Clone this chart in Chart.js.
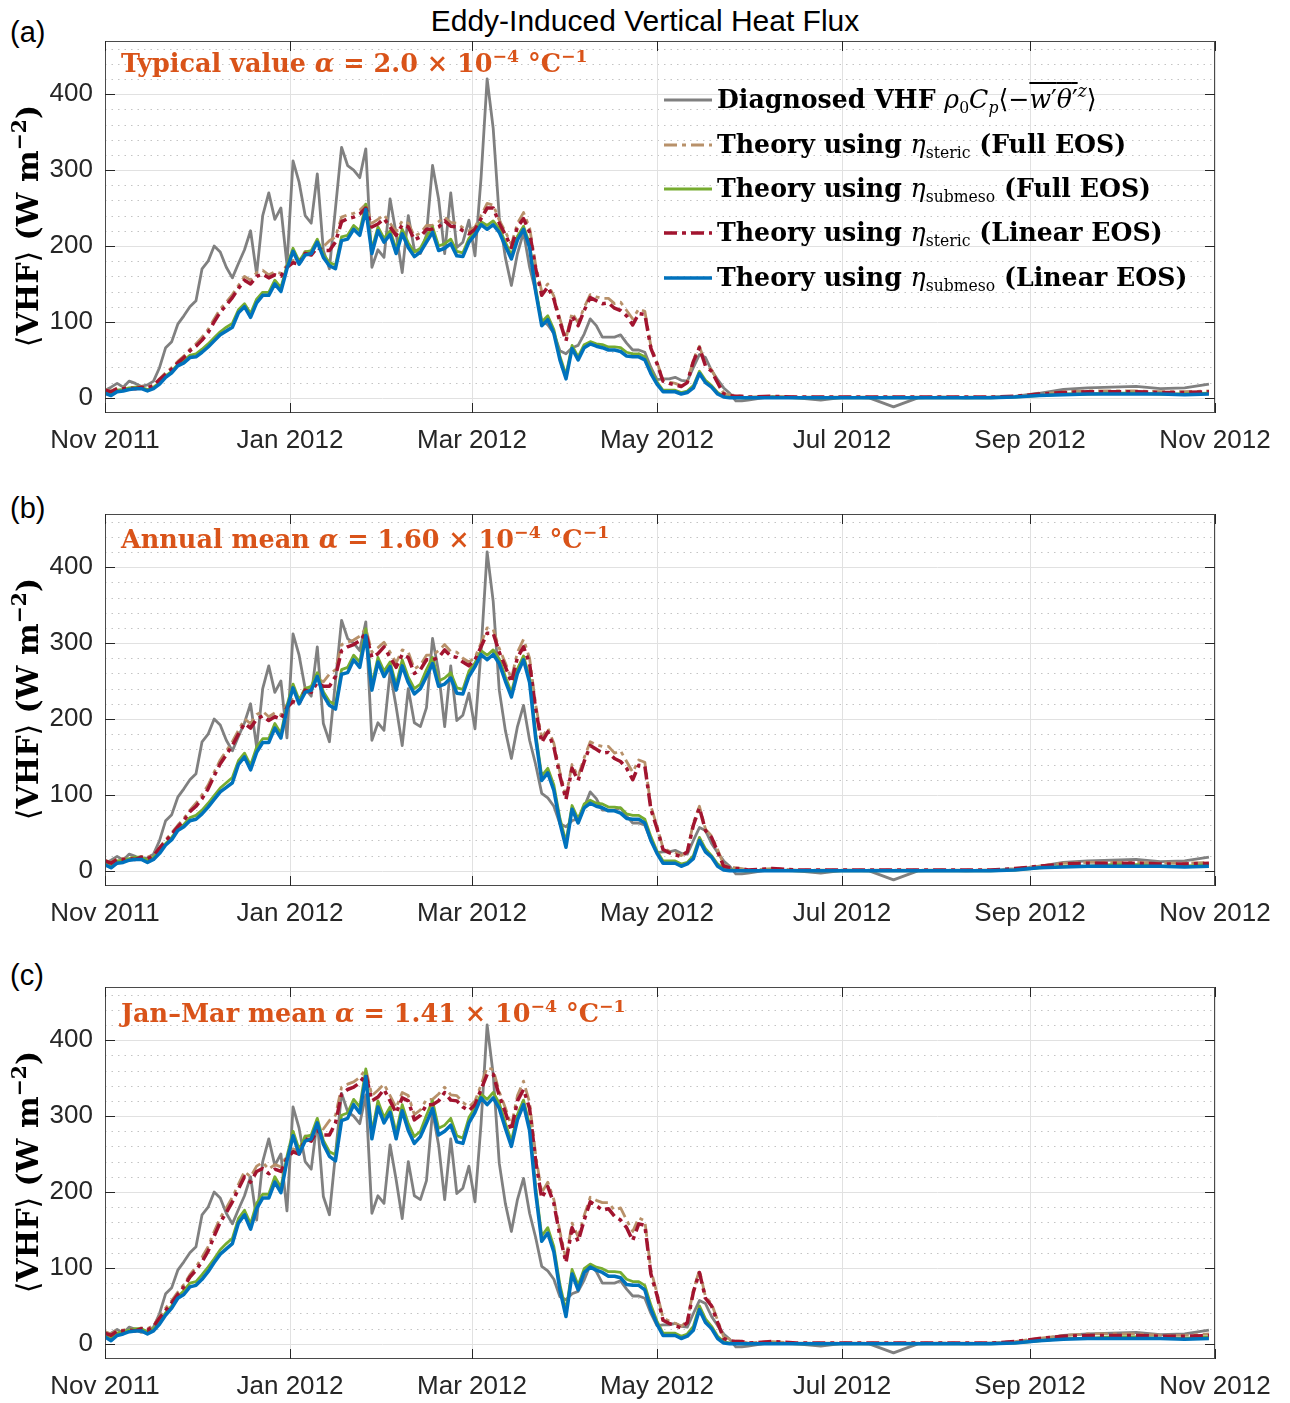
<!DOCTYPE html>
<html>
<head>
<meta charset="utf-8">
<script src="https://cdn.jsdelivr.net/npm/chart.js@4.4.1/dist/chart.umd.min.js"></script>
<style>
  html, body { margin: 0; padding: 0; background: #fff; width: 1290px; height: 1403px; overflow: hidden; position: relative; }
  canvas { position: absolute; left: 0; }
  .txt { position: absolute; white-space: nowrap; line-height: 1; color: #000; }
  .sans { font-family: 'Liberation Sans', Arial, sans-serif; }
  .serif { font-family: 'DejaVu Serif', serif; font-weight: bold; }
  .sx { transform-origin: 0 0; }
  .note { color: #D95319; font-size: 25.5px; }
  .leg { font-size: 26px; }
  .m { font-weight: normal; }
  sup { font-size: 0.68em; vertical-align: 0.6em; line-height: 0; }
  sub { font-size: 0.62em; vertical-align: -0.3em; line-height: 0; }
  .m sub, .m sup { font-weight: normal; }
  .ov { text-decoration: overline; }
  .ylab { font-size: 30px; transform: translate(-50%, -50%) rotate(-90deg); transform-origin: 50% 50%; }
</style>
</head>
<body>

<div class="txt sans" style="left:0; width:1290px; text-align:center; top:6px; font-size:30px;">Eddy-Induced Vertical Heat Flux</div>

<div class="txt sans" style="left:10px; top:18px; font-size:29px;">(a)</div>
<div class="txt sans" style="left:10px; top:494px; font-size:29px;">(b)</div>
<div class="txt sans" style="left:10px; top:961px; font-size:29px;">(c)</div>

<canvas id="chartA" width="1290" height="470" style="top:0px"></canvas>
<canvas id="chartB" width="1290" height="470" style="top:473px"></canvas>
<canvas id="chartC" width="1290" height="470" style="top:946px"></canvas>

<div class="txt serif ylab" style="left:28px; top:226px;"><span class="m">⟨</span>VHF<span class="m">⟩</span> (W m<sup>−2</sup>)</div>
<div class="txt serif ylab" style="left:28px; top:699px;"><span class="m">⟨</span>VHF<span class="m">⟩</span> (W m<sup>−2</sup>)</div>
<div class="txt serif ylab" style="left:28px; top:1172px;"><span class="m">⟨</span>VHF<span class="m">⟩</span> (W m<sup>−2</sup>)</div>

<div class="txt serif note" style="left:121px; top:51px;">Typical value <i>α</i> = 2.0 × 10<sup>−4</sup> °C<sup>−1</sup></div>
<div class="txt serif note" style="left:121px; top:527px;">Annual mean <i>α</i> = 1.60 × 10<sup>−4</sup> °C<sup>−1</sup></div>
<div class="txt serif note" style="left:121px; top:1001px;">Jan–Mar mean <i>α</i> = 1.41 × 10<sup>−4</sup> °C<sup>−1</sup></div>

<svg style="position:absolute; left:664px; top:78px;" width="48" height="220">
  <line x1="0" y1="22" x2="48" y2="22" stroke="#808080" stroke-width="2.8"/>
  <line x1="0" y1="67" x2="48" y2="67" stroke="#B8916A" stroke-width="2.8" stroke-dasharray="13 5 4 5"/>
  <line x1="0" y1="111" x2="48" y2="111" stroke="#77AC30" stroke-width="2.8"/>
  <line x1="0" y1="155" x2="48" y2="155" stroke="#A2142F" stroke-width="3.5" stroke-dasharray="13 5 4 5"/>
  <line x1="0" y1="200" x2="48" y2="200" stroke="#0072BD" stroke-width="3.5"/>
</svg>
<div class="txt serif leg sx" style="left:717px; top:86px; transform:scaleX(0.97);">Diagnosed VHF <span class="m"><i>ρ</i><sub>0</sub><i>C</i><sub><i>p</i></sub>⟨−<span class="ov"><i>w</i>′<i>θ</i>′</span><sup><i>z</i></sup>⟩</span></div>
<div class="txt serif leg sx" style="left:717px; top:131px; transform:scaleX(0.97);">Theory using <span class="m"><i>η</i><sub>steric</sub></span> (Full EOS)</div>
<div class="txt serif leg sx" style="left:717px; top:175px; transform:scaleX(0.97);">Theory using <span class="m"><i>η</i><sub>submeso</sub></span> (Full EOS)</div>
<div class="txt serif leg sx" style="left:717px; top:219px; transform:scaleX(0.97);">Theory using <span class="m"><i>η</i><sub>steric</sub></span> (Linear EOS)</div>
<div class="txt serif leg sx" style="left:717px; top:264px; transform:scaleX(0.97);">Theory using <span class="m"><i>η</i><sub>submeso</sub></span> (Linear EOS)</div>

<script>
// days since 1 Nov 2011
const DAYS = [0,2,4,6,8,10,12,14,16,18,20,22,24,26,28,30,32,34,36,38,40,42,44,46,48,50,52,54,56,58,
  60,62,64,66,68,70,72,74,76,78,80,82,84,86,88,90,92,94,96,98,100,102,104,106,108,110,112,114,116,118,
  120,122,124,126,128,130,132,134,136,138,140,142,144,146,148,150,152,154,156,158,160,162,164,166,168,170,172,174,176,178,
  180,182,184,186,188,190,192,194,196,198,200,202,204,206,208,210,212,
  220,228,236,244,252,260,268,276,284,292,300,308,316,324,332,340,348,356,364];

const XTICK_DAYS = [0, 61, 121, 182, 243, 305, 366];
const XTICK_LABELS = ['Nov 2011', 'Jan 2012', 'Mar 2012', 'May 2012', 'Jul 2012', 'Sep 2012', 'Nov 2012'];
const YTICKS = [0, 100, 200, 300, 400];

// Diagnosed VHF (same in all panels)
const DIAGNOSED = [10,14,19,14,22,19,15,17,22,40, 66,74,97,108,120,128,170,180,200,192,
  172,158,177,195,220,163,240,270,235,250, 175,312,284,240,230,295,194,170,250,330,
  306,300,290,328,172,195,185,262,216,165, 240,195,190,215,306,262,190,270,198,205,
  234,187,290,420,355,238,185,148,190,218, 172,140,102,96,85,62,58,66,69,84,
  104,95,80,80,80,83,72,63,63,60, 40,24,25,25,27,23,22,40,57,53, 36,24,13,6,-4,-4,-3,
  2,0,-3,1,0,-12,0,1,0,1,2,6,11,13,14,15,12,13,18];

// (a) alpha = 2.0e-4
const STERIC_FULL_A = [11,9,13,13,14,13,15,14,17,25, 33,40,48,55,64,71,80,90,104,117,
  126,136,148,160,155,165,168,162,166,164, 175,181,179,193,192,202,199,207,212,238,
  241,243,247,255,230,235,241,230,219,233, 230,213,217,227,227,232,238,231,230,224,
  220,225,240,256,254,234,219,202,230,244, 224,175,140,150,134,104,78,112,99,119,
  136,133,131,131,124,126,115,104,117,114, 68,47,24,21,19,16,21,50,68,44, 37,22,6,4,3,2,1,
  2,1,1,1,1,1,1,1,1,1,2,5,8,9,9,9,8,8,9];
const SUBMESO_FULL_A = [8,5,10,11,13,14,14,11,14,20, 29,35,44,49,56,58,64,71,79,87,
  93,98,116,124,111,130,139,139,155,145, 174,197,180,192,194,209,189,178,175,212,
  214,227,220,255,196,225,210,220,196,222, 204,192,197,212,225,200,203,209,193,191,
  210,219,232,227,233,223,205,188,213,226, 203,145,100,108,90,55,30,69,54,70,
  74,71,70,67,67,66,60,58,58,54, 36,21,10,10,10,7,9,16,35,23, 16,7,2,1,1,0,0,
  1,0,0,0,0,0,0,0,0,0,1,3,5,5,6,6,5,5,6];
const STERIC_LIN_A = [10,8,12,12,13,12,14,13,16,24, 31,38,46,53,62,68,76,86,100,113,
  122,132,144,155,150,160,163,158,162,160, 172,178,176,190,188,198,194,194,205,232,
  236,238,242,250,225,229,236,225,214,228, 225,208,212,222,222,225,233,226,225,220,
  216,222,236,250,250,230,215,198,225,236, 218,170,135,146,130,100,75,108,95,115,
  132,128,124,125,118,115,108,96,111,110, 65,45,22,19,17,15,20,48,66,42, 35,20,5,3,2,2,1,
  2,1,1,1,1,1,1,1,1,1,2,5,7,8,8,8,7,7,8];
const SUBMESO_LIN_A = [6,3,8,9,11,12,12,9,12,18, 27,33,42,46,53,54,60,67,75,83,
  88,93,112,120,106,125,135,135,150,140, 170,193,176,188,190,205,185,174,170,207,
  209,222,214,248,190,220,205,215,190,216, 198,186,192,205,218,194,197,203,187,186,
  205,215,228,222,228,218,200,183,208,222, 198,140,95,103,85,50,25,65,50,66,
  71,68,66,63,63,61,55,54,54,50, 32,18,8,8,8,5,7,13,32,20, 14,5,1,0,0,0,0,
  0,0,0,0,0,0,0,0,0,0,1,3,4,5,5,5,5,4,5];

// (b) alpha = 1.60e-4
const STERIC_FULL_B = [14,11,16,16,18,16,19,18,21,31, 41,50,60,69,80,89,100,113,130,146,
  158,170,185,200,194,206,210,203,208,205, 219,226,224,241,240,253,249,259,265,298,
  301,304,309,319,288,294,301,288,274,291, 288,266,271,284,284,290,298,289,288,280,
  275,281,300,320,318,293,274,253,288,305, 280,219,175,188,168,130,98,140,124,149,
  170,166,164,164,155,158,144,130,146,143, 85,59,30,26,24,20,26,63,85,55, 46,28,8,5,4,3,1,
  3,1,1,1,1,1,1,1,1,1,3,6,10,11,11,11,10,10,11];
const SUBMESO_FULL_B = [10,6,13,14,16,18,18,14,18,25, 36,44,55,61,70,73,80,89,99,109,
  116,123,145,155,139,163,174,174,194,181, 218,246,225,240,243,261,236,223,219,265,
  268,284,275,319,245,281,263,275,245,278, 255,240,246,265,281,250,254,261,241,239,
  263,274,290,284,291,279,256,235,266,283, 254,181,125,135,113,69,38,86,68,88,
  93,89,88,84,84,83,75,73,73,68, 45,26,13,13,13,9,11,20,44,29, 20,9,3,1,1,0,0,
  1,0,0,0,0,0,0,0,0,0,1,4,6,6,8,8,6,6,8];
const STERIC_LIN_B = [13,10,15,15,16,15,18,16,20,30, 39,48,58,66,78,85,95,108,125,141,
  153,165,180,194,188,200,204,198,203,200, 215,223,220,238,235,248,243,243,256,290,
  295,298,303,313,281,286,295,281,268,285, 281,260,265,278,278,281,291,283,281,275,
  270,278,295,313,313,288,269,248,281,295, 273,213,169,183,163,125,94,135,119,144,
  165,160,155,156,148,144,135,120,139,138, 81,56,28,24,21,19,25,60,83,53, 44,25,6,4,3,3,1,
  3,1,1,1,1,1,1,1,1,1,3,6,9,10,10,10,9,9,10];
const SUBMESO_LIN_B = [8,4,10,11,14,15,15,11,15,23, 34,41,53,58,66,68,75,84,94,104,
  110,116,140,150,133,156,169,169,188,175, 213,241,220,235,238,256,231,218,213,259,
  261,278,268,310,238,275,256,269,238,270, 248,233,240,256,273,243,246,254,234,233,
  256,269,285,278,285,273,250,229,260,278, 248,175,119,129,106,63,31,81,63,83,
  89,85,83,79,79,76,69,68,68,63, 40,23,10,10,10,6,9,16,40,25, 18,6,1,0,0,0,0,
  0,0,0,0,0,0,0,0,0,0,1,4,5,6,6,6,6,5,6];

// (c) alpha = 1.41e-4
const STERIC_FULL_C = [16,13,18,18,20,18,21,20,24,36, 47,57,68,78,91,101,114,128,148,166,
  179,193,210,227,220,234,239,230,236,233, 249,257,254,274,273,287,283,294,301,338,
  342,345,351,362,327,334,342,327,311,331, 327,302,308,322,322,329,338,328,327,318,
  312,320,341,364,361,332,311,287,327,346, 318,249,199,213,190,148,111,159,141,169,
  193,189,186,186,176,179,163,148,166,162, 97,67,34,30,27,23,30,71,97,62, 53,31,9,6,4,3,1,
  3,1,1,1,1,1,1,1,1,1,3,7,11,13,13,13,11,11,13];
const SUBMESO_FULL_C = [11,7,14,16,18,20,20,16,20,28, 41,50,62,70,80,82,91,101,112,124,
  132,139,165,176,158,185,197,197,220,206, 247,280,256,273,275,297,268,253,249,301,
  304,322,312,362,278,320,298,312,278,315, 290,273,280,301,320,284,288,297,274,271,
  298,311,329,322,331,317,291,267,302,321, 288,206,142,153,128,78,43,98,77,99,
  105,101,99,95,95,94,85,82,82,77, 51,30,14,14,14,10,13,23,50,33, 23,10,3,1,1,0,0,
  1,0,0,0,0,0,0,0,0,0,1,4,7,7,9,9,7,7,9];
const STERIC_LIN_C = [14,11,17,17,18,17,20,18,23,34, 44,54,65,75,88,97,108,122,142,160,
  173,187,204,220,213,227,231,224,230,227, 244,253,250,270,267,281,275,275,291,329,
  335,338,344,355,320,325,335,320,304,324, 320,295,301,315,315,320,331,321,320,312,
  307,315,335,355,355,327,305,281,320,335, 310,241,192,207,185,142,107,153,135,163,
  187,182,176,178,168,163,153,136,158,156, 92,64,31,27,24,21,28,68,94,60, 50,28,7,4,3,3,1,
  3,1,1,1,1,1,1,1,1,1,3,7,10,11,11,11,10,10,11];
const SUBMESO_LIN_C = [9,4,11,13,16,17,17,13,17,26, 38,47,60,65,75,77,85,95,107,118,
  125,132,159,170,151,178,192,192,213,199, 241,274,250,267,270,291,263,247,241,294,
  297,315,304,352,270,312,291,305,270,307, 281,264,273,291,310,275,280,288,266,264,
  291,305,324,315,324,310,284,260,295,315, 281,199,135,146,121,71,36,92,71,94,
  101,97,94,89,89,87,78,77,77,71, 45,26,11,11,11,7,10,18,45,28, 20,7,1,0,0,0,0,
  0,0,0,0,0,0,0,0,0,0,1,4,6,7,7,7,7,6,7];

const SERIES_STYLE = [
    { color: '#808080', width: 2.8, dash: [], order: 5 },
    { color: '#B8916A', width: 2.8, dash: [13, 5, 4, 5], order: 4 },
    { color: '#77AC30', width: 2.8, dash: [], order: 3 },
    { color: '#A2142F', width: 3.5, dash: [13, 5, 4, 5], order: 2 },
    { color: '#0072BD', width: 3.5, dash: [], order: 1 },
];

const PANELS = [
    { id: 'chartA', series: [DIAGNOSED, STERIC_FULL_A, SUBMESO_FULL_A, STERIC_LIN_A, SUBMESO_LIN_A] },
    { id: 'chartB', series: [DIAGNOSED, STERIC_FULL_B, SUBMESO_FULL_B, STERIC_LIN_B, SUBMESO_LIN_B] },
    { id: 'chartC', series: [DIAGNOSED, STERIC_FULL_C, SUBMESO_FULL_C, STERIC_LIN_C, SUBMESO_LIN_C] },
];

// grid, box and inward tick marks, matlab style
const axesFrame = {
    id: 'axesFrame',
    beforeDatasetsDraw(chart) {
        const { ctx, chartArea: a, scales: { x, y } } = chart;
        ctx.save();
        ctx.lineWidth = 1;
        // minor dotted lines every 20
        ctx.strokeStyle = '#c4c4c4';
        ctx.setLineDash([1.5, 5]);
        for (let v = 20; v < y.max; v += 20) {
            if (v % 100 === 0 && v <= 400) continue;
            const py = Math.round(y.getPixelForValue(v)) + 0.5;
            ctx.beginPath(); ctx.moveTo(a.left, py); ctx.lineTo(a.right, py); ctx.stroke();
        }
        ctx.setLineDash([]);
        ctx.strokeStyle = '#e1e1e1';
        YTICKS.forEach(v => {
            const py = Math.round(y.getPixelForValue(v)) + 0.5;
            ctx.beginPath(); ctx.moveTo(a.left, py); ctx.lineTo(a.right, py); ctx.stroke();
        });
        XTICK_DAYS.forEach(d => {
            const px = Math.round(x.getPixelForValue(d)) + 0.5;
            ctx.beginPath(); ctx.moveTo(px, a.top); ctx.lineTo(px, a.bottom); ctx.stroke();
        });
        ctx.restore();
    },
    afterDraw(chart) {
        const { ctx, chartArea: a, scales: { x, y } } = chart;
        const tl = 10;
        ctx.save();
        ctx.lineWidth = 1;
        ctx.strokeStyle = '#4a4a4a';
        ctx.strokeRect(a.left + 0.5, a.top + 0.5, a.right - a.left - 1, a.bottom - a.top - 1);
        ctx.strokeStyle = '#262626';
        YTICKS.forEach(v => {
            const py = Math.round(y.getPixelForValue(v)) + 0.5;
            ctx.beginPath();
            ctx.moveTo(a.left, py); ctx.lineTo(a.left + tl, py);
            ctx.moveTo(a.right, py); ctx.lineTo(a.right - tl, py);
            ctx.stroke();
        });
        XTICK_DAYS.forEach(d => {
            const px = Math.round(x.getPixelForValue(d)) + 0.5;
            ctx.beginPath();
            ctx.moveTo(px, a.bottom); ctx.lineTo(px, a.bottom - tl);
            ctx.moveTo(px, a.top); ctx.lineTo(px, a.top + tl);
            ctx.stroke();
        });
        ctx.restore();
    }
};

Chart.defaults.font.family = "'Liberation Sans', Arial, sans-serif";
Chart.defaults.color = '#262626';

PANELS.forEach(panel => {
    const ctx = document.getElementById(panel.id).getContext('2d');
    const datasets = panel.series.map((vals, i) => ({
        data: DAYS.map((d, k) => ({ x: d, y: vals[k] })),
        borderColor: SERIES_STYLE[i].color,
        borderWidth: SERIES_STYLE[i].width,
        borderDash: SERIES_STYLE[i].dash,
        borderJoinStyle: 'round',
        pointRadius: 0,
        tension: 0,
        fill: false,
        order: SERIES_STYLE[i].order
    }));

    new Chart(ctx, {
        type: 'line',
        data: { datasets: datasets },
        options: {
            responsive: false,
            animation: false,
            devicePixelRatio: 1,
            layout: { padding: { top: 41, right: 75, bottom: 0, left: 0 } },
            plugins: { legend: { display: false }, tooltip: { enabled: false } },
            scales: {
                x: {
                    type: 'linear',
                    min: 0,
                    max: 366,
                    grid: { display: false, drawTicks: false },
                    border: { display: false },
                    afterBuildTicks: scale => { scale.ticks = XTICK_DAYS.map(v => ({ value: v })); },
                    afterFit: scale => { scale.height = 57; },
                    ticks: {
                        autoSkip: false,
                        maxRotation: 0,
                        padding: 12,
                        font: { size: 26 },
                        callback: (value, index) => XTICK_LABELS[index]
                    }
                },
                y: {
                    min: -20,
                    max: 470,
                    grid: { display: false, drawTicks: false },
                    border: { display: false },
                    afterBuildTicks: scale => { scale.ticks = YTICKS.map(v => ({ value: v })); },
                    afterFit: scale => { scale.width = 105; },
                    ticks: {
                        padding: 12,
                        font: { size: 26 },
                        callback: value => String(value)
                    }
                }
            }
        },
        plugins: [axesFrame]
    });
});
</script>
</body>
</html>
